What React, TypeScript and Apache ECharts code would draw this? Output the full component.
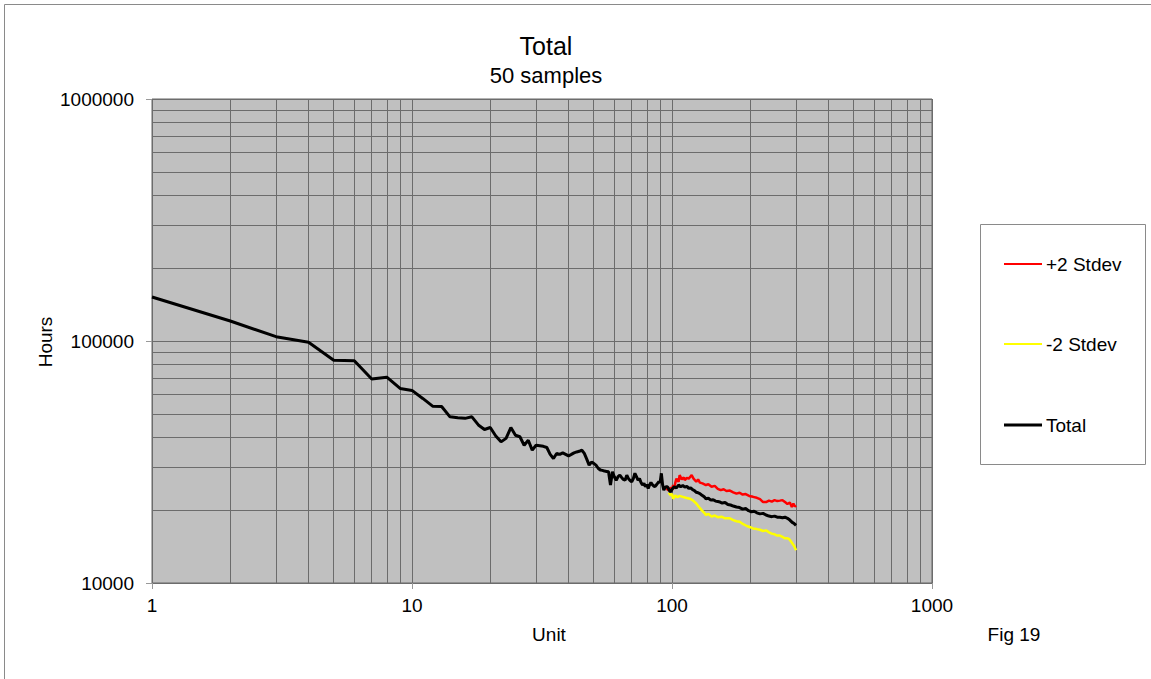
import React, { useEffect, useRef } from "react";
import * as echarts from "echarts";

const FONT = "'Liberation Sans', Arial, sans-serif";

const totalUnits = [
  1, 2, 3, 4, 5, 6, 7, 8, 9, 10, 11, 12, 13, 14, 15, 16, 17, 18, 19, 20,
  21, 22, 23, 24, 25, 26, 27, 28, 29, 30, 31, 32, 33, 34, 35, 36, 37, 38, 39, 40,
  41, 42, 43, 44, 45, 46, 47, 48, 49, 50, 51, 52, 53, 54, 55, 56, 57, 58, 59, 60,
  61, 62, 63, 64, 65, 66, 67, 68, 69, 70, 71, 72, 73, 74, 75, 76, 77, 78, 79, 80,
  81, 82, 83, 84, 85, 86, 87, 88, 89, 90, 91, 92, 93, 94, 95, 96, 97, 98, 99, 100,
  102, 104, 106, 108, 110, 112, 114, 116, 118, 120, 122, 124, 126, 128, 130, 133, 135, 138, 141, 144,
  147, 150, 153, 156, 160, 164, 168, 172, 177, 182, 187, 192, 197, 202, 207, 212, 218, 224, 230, 236,
  242, 248, 254, 260, 266, 272, 278, 284, 290, 295, 300,
];
const totalHours = [
  152000, 121000, 104200, 98800, 83200, 82800, 69600, 70900, 63700, 62500,
  57900, 53800, 53600, 48600, 48200, 47900, 48600, 45000, 43100, 43900,
  40500, 38300, 39600, 43900, 40800, 40200, 37100, 38900, 35400, 37100,
  36900, 36700, 36300, 34000, 32700, 34300, 34000, 34500, 34000, 33500,
  34000, 34500, 34800, 35000, 35400, 34300, 32500, 30700, 31600, 31200,
  30700, 29800, 29300, 29200, 29000, 28900, 28800, 25400, 28800, 27500,
  26600, 27500, 27900, 27300, 26800, 26600, 27900, 27000, 26500, 26200,
  27000, 28400, 27500, 26600, 27000, 26000, 25400, 25800, 25000, 25500,
  24600, 25400, 26000, 25500, 25200, 25000, 25400, 25800, 26200, 26000,
  28400, 25500, 24200, 24800, 25000, 25000, 24500, 24000, 23800, 24400,
  25000, 24700, 25400, 25000, 25300, 24900, 25100, 24600, 24700, 24300,
  24100, 23700, 23600, 23400, 23100, 22700, 22300, 22400, 22000, 22100,
  21800, 21700, 21600, 21400, 21500, 21100, 21000, 20800, 20600, 20500,
  20200, 20300, 19900, 19700, 19800, 19500, 19300, 19400, 19100, 18900,
  18800, 18900, 18700, 18700, 18600, 18700, 18500, 18200, 17800, 17600, 17300,
];

const plusUnits = [
  95, 97, 99, 100, 101, 102, 103, 104, 106, 107, 109, 111, 112, 114, 116, 118, 119, 121, 124, 126,
  128, 131, 135, 138, 142, 146, 150, 154, 158, 162, 167, 172, 177, 182, 187, 192, 198, 205, 212, 218,
  224, 230, 236, 242, 248, 254, 260, 266, 272, 278, 284, 289, 293, 297, 300,
];
const plusHours = [
  24600, 24200, 24800, 24200, 25400, 24500, 26000, 27000, 26200, 27900,
  26800, 27300, 26600, 27200, 27000, 27600, 27900, 27000, 26200, 26800,
  26000, 25800, 25400, 25600, 25000, 25200, 24500, 24200, 24400, 24000,
  24100, 23700, 23400, 23600, 23200, 23300, 22900, 22700, 22500, 22200,
  21600, 21600, 21900, 21700, 22000, 21800, 21900, 22000, 21600, 21200,
  21500, 20600, 21300, 20700, 20900,
];

const minusUnits = [
  97, 99, 100, 101, 103, 105, 107, 110, 113, 117, 120, 124, 127, 130, 133, 135, 138, 142, 146, 150,
  155, 160, 167, 172, 177, 182, 188, 194, 200, 205, 212, 218, 224, 230, 236, 242, 248, 254, 260, 266,
  272, 278, 282, 286, 290, 294, 297, 300,
];
const minusHours = [
  23600, 23000, 23400, 22300, 23000, 22600, 22900, 22700, 22500, 22300,
  22000, 21300, 20600, 20000, 19500, 19100, 19300, 18800, 19000, 18700,
  18800, 18500, 18500, 18200, 18000, 17900, 17500, 17200, 17000, 16800,
  16700, 16600, 16400, 16500, 16200, 16000, 15900, 15700, 15700, 15500,
  15300, 15300, 15200, 14900, 14600, 14300, 14000, 13650,
];

const xMinorGrid = [2, 3, 4, 5, 6, 7, 8, 9, 20, 30, 40, 50, 60, 70, 80, 90, 200, 300, 400, 500, 600, 700, 800, 900];
const yMinorGrid = [20000, 30000, 40000, 50000, 60000, 70000, 80000, 90000, 200000, 300000, 400000, 500000, 600000, 700000, 800000, 900000];

const titleText = "Total";
const subtitleText = "50 samples";
const xName = "Unit";
const yName = "Hours";
const figText = "Fig 19";
const legendNames = ["+2 Stdev", "-2 Stdev", "Total"];
const seriesColors = ["#ff0000", "#ffff00", "#000000"];

const zip = (xs: number[], ys: number[]) => xs.map((x, i) => [x, ys[i]]);

export default function App() {
  const ref = useRef<HTMLDivElement>(null);
  useEffect(() => {
    if (!ref.current) return;
    const chart = echarts.init(ref.current, null, { renderer: "svg" });
    const gridColor = "#6c6c6c";
    const labelStyle = { fontSize: 19, color: "#000", fontFamily: FONT };
    chart.setOption({
      animation: false,
      grid: {
        left: 152,
        top: 99,
        right: 219,
        bottom: 96,
        show: true,
        backgroundColor: "#c0c0c0",
        borderColor: "#666666",
        borderWidth: 1,
      },
      xAxis: {
        type: "log",
        logBase: 10,
        min: 1,
        max: 1000,
        axisLine: { show: false },
        axisTick: { show: true, length: 6, lineStyle: { color: "#999" } },
        axisLabel: {
          ...labelStyle,
          margin: 13,
          showMinLabel: true,
          showMaxLabel: true,
          formatter: (v: number) => String(Math.round(v)),
        },
        splitLine: { show: true, lineStyle: { color: gridColor, width: 1 } },
      },
      yAxis: {
        type: "log",
        logBase: 10,
        min: 10000,
        max: 1000000,
        axisLine: { show: false },
        axisTick: { show: true, length: 6, lineStyle: { color: "#999" } },
        axisLabel: {
          ...labelStyle,
          margin: 18,
          showMinLabel: true,
          showMaxLabel: true,
          formatter: (v: number) => String(Math.round(v)),
        },
        splitLine: { show: true, lineStyle: { color: gridColor, width: 1 } },
      },
      series: [
        {
          name: "grid",
          type: "line",
          data: [[1, 10000]],
          showSymbol: false,
          silent: true,
          lineStyle: { width: 0 },
          markLine: {
            silent: true,
            z: 1,
            symbol: ["none", "none"],
            label: { show: false },
            lineStyle: { color: gridColor, width: 1, type: "solid" },
            emphasis: { disabled: true },
            data: [
              ...xMinorGrid.map((v) => ({ xAxis: v })),
              ...yMinorGrid.map((v) => ({ yAxis: v })),
            ],
          },
        },
        {
          name: legendNames[0],
          type: "line",
          data: zip(plusUnits, plusHours),
          showSymbol: false,
          z: 3,
          lineStyle: { color: seriesColors[0], width: 2.5 },
        },
        {
          name: legendNames[1],
          type: "line",
          data: zip(minusUnits, minusHours),
          showSymbol: false,
          z: 3,
          lineStyle: { color: seriesColors[1], width: 2.5 },
        },
        {
          name: legendNames[2],
          type: "line",
          data: zip(totalUnits, totalHours),
          showSymbol: false,
          z: 4,
          lineStyle: { color: seriesColors[2], width: 3 },
        },
      ],
      graphic: [
        {
          type: "polyline",
          silent: true,
          shape: { points: [[4.5, 679], [4.5, 4.5], [1151, 4.5]] },
          style: { stroke: "#8a8a8a", lineWidth: 1, fill: null },
        },
        {
          type: "text",
          x: 546,
          y: 46,
          style: { text: titleText, fontSize: 25, fontFamily: FONT, fill: "#000", textAlign: "center", textVerticalAlign: "middle" },
        },
        {
          type: "text",
          x: 546,
          y: 75,
          style: { text: subtitleText, fontSize: 22, fontFamily: FONT, fill: "#000", textAlign: "center", textVerticalAlign: "middle" },
        },
        {
          type: "text",
          x: 45,
          y: 342,
          rotation: Math.PI / 2,
          style: { text: yName, fontSize: 19, fontFamily: FONT, fill: "#000", textAlign: "center", textVerticalAlign: "middle" },
        },
        {
          type: "text",
          x: 549,
          y: 634,
          style: { text: xName, fontSize: 19, fontFamily: FONT, fill: "#000", textAlign: "center", textVerticalAlign: "middle" },
        },
        {
          type: "text",
          x: 1014,
          y: 634,
          style: { text: figText, fontSize: 19, fontFamily: FONT, fill: "#000", textAlign: "center", textVerticalAlign: "middle" },
        },
        {
          type: "rect",
          silent: true,
          shape: { x: 980.5, y: 224.5, width: 165, height: 240 },
          style: { fill: "#fff", stroke: "#8a8a8a", lineWidth: 1 },
        },
        ...legendNames.flatMap((name, i) => {
          const y = [264, 344, 425][i];
          return [
            {
              type: "line",
              silent: true,
              shape: { x1: 1004, y1: y, x2: 1042, y2: y },
              style: { stroke: seriesColors[i], lineWidth: i === 2 ? 3 : 2 },
            },
            {
              type: "text",
              x: 1046,
              y,
              style: { text: name, fontSize: 19, fontFamily: FONT, fill: "#000", textAlign: "left", textVerticalAlign: "middle" },
            },
          ];
        }),
      ],
    });
    return () => chart.dispose();
  }, []);
  return (
    <div
      ref={ref}
      style={{ position: "absolute", left: 0, top: 0, width: 1151, height: 679, background: "#fff" }}
    />
  );
}
